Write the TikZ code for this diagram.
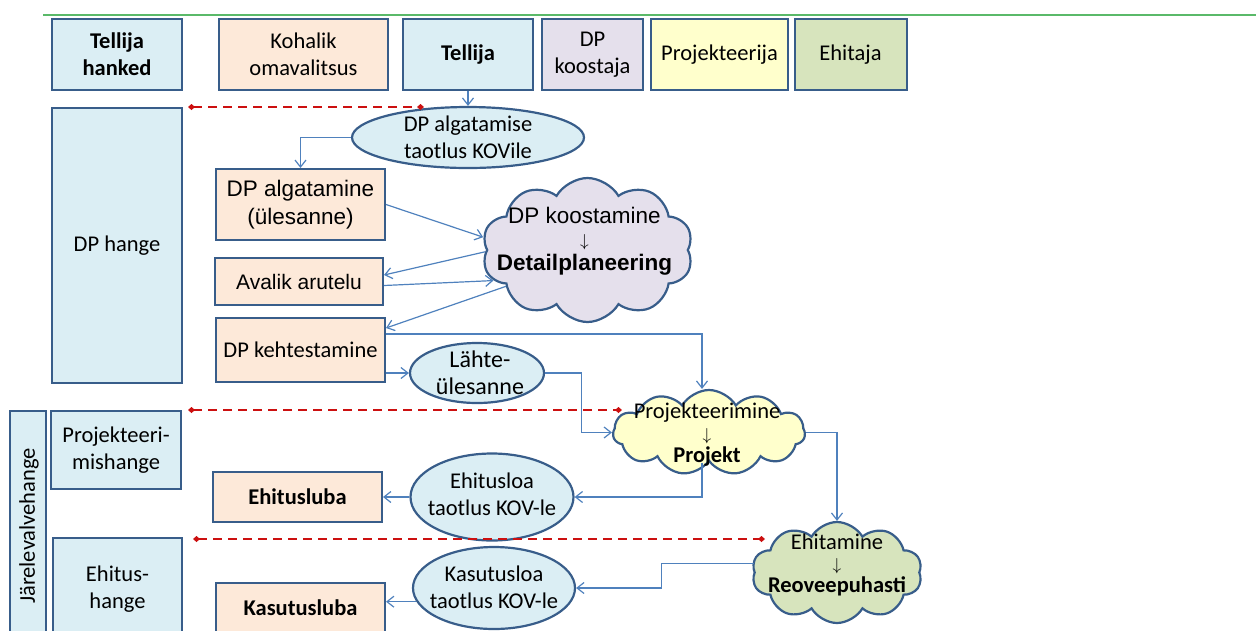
\documentclass[tikz,border=0pt]{standalone}
\usepackage{fontspec}
\setmainfont{Carlito}
\newfontfamily\arialf{Liberation Sans}
\usetikzlibrary{shapes.geometric,shapes.symbols,arrows.meta,calc}
\definecolor{bfill}{RGB}{219,238,244}
\definecolor{pfill}{RGB}{253,233,217}
\definecolor{lfill}{RGB}{229,224,236}
\definecolor{yfill}{RGB}{255,255,204}
\definecolor{gfill}{RGB}{215,228,189}
\definecolor{bord}{RGB}{56,93,138}
\definecolor{conncol}{RGB}{79,129,189}
\definecolor{redd}{RGB}{204,16,16}
\definecolor{topgreen}{RGB}{90,185,105}
\newcommand{\smalldown}{{\fontsize{17}{17}\selectfont$\downarrow$}}
\begin{document}
\begin{tikzpicture}[x=1pt,y=-1pt,
  box/.style={draw=bord, line width=2pt, inner sep=0pt, align=center,
    font=\fontsize{22.5}{27}\selectfont},
  oval/.style={ellipse, draw=bord, line width=2.2pt, fill=bfill, inner sep=0pt},
  cloudy/.style={cloud, cloud ignores aspect, draw=bord, line width=2.2pt, inner sep=0pt, cloud puff arc=120},
  txt/.style={align=center, inner sep=0pt, font=\fontsize{22.5}{27}\selectfont},
  conn/.style={draw=conncol, line width=1.2pt, -{Straight Barb[length=7pt,width=11pt]}},
  reddash/.style={draw=redd, line width=2.4pt, dash pattern=on 9pt off 6pt,
    {Diamond[length=7pt,width=6pt]}-{Diamond[length=7pt,width=6pt]}}
]
\useasboundingbox (0,0) rectangle (1256,630);
\clip (0,0) rectangle (1256,630);
\draw[topgreen, line width=2pt] (43,15) -- (1256,15);

% top row
\node[box, fill=bfill, minimum width=130pt, minimum height=71pt] (hanked) at (117,54.5) {\textbf{Tellija}\\\textbf{hanked}};
\node[box, fill=pfill, minimum width=169pt, minimum height=71pt] (kohalik) at (303.5,54.5) {Kohalik\\omavalitsus};
\node[box, fill=bfill, minimum width=130pt, minimum height=71pt] (tellija) at (468,54.5) {\textbf{Tellija}};
\node[box, fill=lfill, minimum width=101pt, minimum height=71pt] (koostaja) at (592.5,54.5) {DP\\koostaja};
\node[box, fill=yfill, minimum width=137pt, minimum height=71pt] (projektija) at (719.5,54.5) {Projekteerija};
\node[box, fill=gfill, minimum width=112pt, minimum height=71pt] (ehitaja) at (850.5,54.5) {Ehitaja};

% left column
\node[box, fill=bfill, minimum width=130pt, minimum height=275pt] (dphange) at (117,245.5) {DP hange};
\node[box, fill=bfill, minimum width=130pt, minimum height=78pt] (projh) at (116,450) {Projekteeri-\\mishange};
\node[box, fill=bfill, minimum width=36pt, minimum height=226pt] (jarel) at (28,524) {};
\node[txt, rotate=90] (jarelT) at ($(jarel.center)+(1,2)$) {Järelevalvehange};
\node[box, fill=bfill, minimum width=129pt, minimum height=102pt] (ehith) at (117.5,589) {Ehitus-\\hange};

% DP process
\node[oval, minimum width=232pt, minimum height=61pt] (taotlus) at (468,137.5) {};
\node[txt] (taotlusT) at (taotlus.center) {DP algatamise\\taotlus KOVile};
\node[box, fill=pfill, minimum width=169pt, minimum height=71pt, font=\arialf\fontsize{22.5}{28}\selectfont] (algat) at (300.5,204.5) {DP algatamine\\(ülesanne)};
\node[box, fill=pfill, minimum width=168pt, minimum height=47pt, font=\arialf\fontsize{21}{24}\selectfont] (avalik) at (299,281.5) {Avalik arutelu};
\node[box, fill=pfill, minimum width=169pt, minimum height=64pt] (kehtest) at (300.5,350) {DP kehtestamine};
\node[cloudy, fill=lfill, cloud puffs=10, minimum width=211pt, minimum height=144pt] (dpk) at (587.5,250) {};
\node[txt, font=\arialf\fontsize{22.5}{23.5}\selectfont] (dpkT) at ($(dpk.center)+(-3,-9)$) {DP koostamine\\\smalldown\\\textbf{Detailplaneering}};

\node[oval, minimum width=134pt, minimum height=60pt] (lahte) at (477,373) {};
\node[txt, font=\fontsize{24}{27}\selectfont] (lahteT) at ($(lahte.center)+(3,0)$) {Lähte-\\ülesanne};

\node[cloudy, fill=yfill, cloud puffs=11, minimum width=192pt, minimum height=85pt] (proj) at (709,432.5) {};
\node[txt, font=\fontsize{22.5}{22}\selectfont] (projT) at ($(proj.center)+(-2,2)$) {Projekteerimine\\\smalldown\\\textbf{Projekt}};

\node[oval, minimum width=163pt, minimum height=87pt] (ehloa) at (492,497) {};
\node[txt] (ehloaT) at ($(ehloa.center)+(0,-3)$) {Ehitusloa\\taotlus KOV-le};
\node[box, fill=pfill, minimum width=169pt, minimum height=50pt] (ehluba) at (297.5,497) {\textbf{Ehitusluba}};

\node[cloudy, fill=gfill, cloud puffs=10, minimum width=170pt, minimum height=101pt] (ehit) at (837,572.5) {};
\node[txt, font=\fontsize{22.5}{21.5}\selectfont] (ehitT) at ($(ehit.center)+(0,-8)$) {Ehitamine\\\smalldown\\\textbf{Reoveepuhasti}};

\node[oval, minimum width=162pt, minimum height=82pt] (kasloa) at (494,588) {};
\node[txt] (kasloaT) at ($(kasloa.center)+(0,-1)$) {Kasutusloa\\taotlus KOV-le};
\node[box, fill=pfill, minimum width=169pt, minimum height=50pt] (kasluba) at (300.5,608) {\textbf{Kasutusluba}};

% connectors
\draw[conn] (tellija.south) -- (taotlus.north);
\draw[conn] (taotlus.west) -| (algat.north);
\draw[conn] (algat.east) -- (dpk.173);
\draw[conn] (dpk.181) -- ($(avalik.east)+(0,-6.5)$);
\draw[conn] ($(avalik.east)+(0,4)$) -- (dpk.198);
\draw[conn] (dpk.204) -- ($(kehtest.east)+(0,-22)$);
\draw[conn] ($(kehtest.east)+(0,-16)$) -| ($(proj.north)+(-7,0)$);
\draw[conn] (kehtest.east |- lahte.west) -- (lahte.west);
\draw[conn] (lahte.east) -- ++(36,0) |- (proj.west);
\draw[conn] (proj.east) -| (ehit.north);
\draw[conn] ($(proj.south)+(-7,0)$) |- (ehloa.east);
\draw[conn] (ehloa.west) -- (ehluba.east);
\draw[conn] ($(ehit.west)+(0,-9)$) -| ($(kasloa.east)+(85,0)$) -- (kasloa.east);
\draw[conn] (kasloa.190) -- (kasloa.190 -| kasluba.east);

% red dashed lines
\coordinate (d1a) at (188,107);
\coordinate (d1b) at (424,107);
\coordinate (d2a) at (188,410);
\coordinate (d2b) at (622,410);
\coordinate (d3a) at (193,539);
\coordinate (d3b) at (765,539);
\draw[reddash] (d1a) -- (d1b);
\draw[reddash] (d2a) -- (d2b);
\draw[reddash] (d3a) -- (d3b);
\end{tikzpicture}
\end{document}
